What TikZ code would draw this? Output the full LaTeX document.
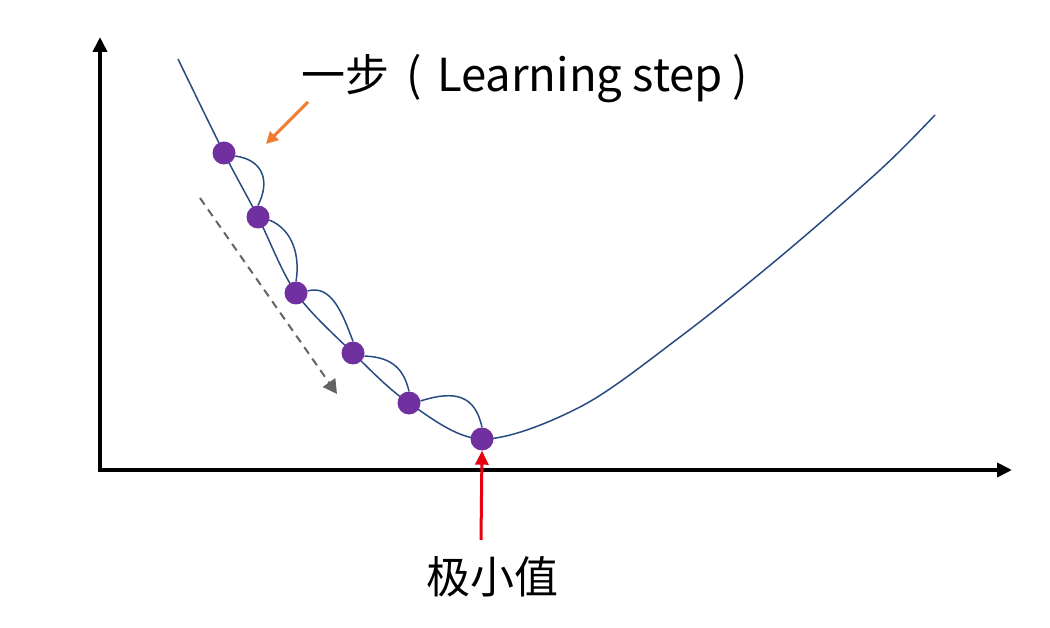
\documentclass[tikz,border=0pt]{standalone}
\usepackage{fontspec}
\setmainfont{Noto Sans CJK SC}
\usetikzlibrary{arrows.meta}
\definecolor{curveblue}{RGB}{40,75,130}
\definecolor{dotpurple}{RGB}{112,48,160}
\definecolor{arrorange}{RGB}{237,125,49}
\definecolor{arrred}{RGB}{230,0,18}
\definecolor{dashgray}{RGB}{100,100,100}
\newcommand{\cjksize}{\fontsize{44}{48}\selectfont}
\newcommand{\latsize}{\fontsize{45.5}{50}\selectfont}
\begin{document}
\begin{tikzpicture}[x=1pt,y=-1pt,
  axis/.style={line width=4pt,-{Triangle[length=15pt,width=14pt]}},
  curve/.style={draw=curveblue,line width=1.5pt},
  dot/.style={circle,fill=dotpurple,minimum size=23pt,inner sep=0pt},
  loop/.style={draw=curveblue,line width=1.5pt},
  lbl/.style={inner sep=0pt}]
\fill[white] (0,0) rectangle (1050,628);
\useasboundingbox (0,0) rectangle (1050,628);
% axes
\coordinate (o) at (100,470);
\coordinate (ytop) at (100,37);
\coordinate (xend) at (1012,470);
\draw[axis] ([yshift=2pt]o) -- (ytop);
\draw[axis] ([xshift=-2pt]o) -- (xend);
% main curve
\draw[curve] plot[smooth,tension=0.55] coordinates {(178,59) (224,153) (258,217) (296,293) (353,353) (409,403) (482,439) (580,407) (680,337) (780,257) (880,170) (935,115)};
% dots
\node[dot] (d1) at (224,153) {};
\node[dot] (d2) at (258,217) {};
\node[dot] (d3) at (296,293) {};
\node[dot] (d4) at (353,353) {};
\node[dot] (d5) at (409,403) {};
\node[dot] (d6) at (482,439) {};
% step loops
\draw[loop] (d1.-15) .. controls (264,160) and (270,182) .. (d2.north);
\draw[loop] (d2.-15) .. controls (294,230) and (300,258) .. (d3.north);
\draw[loop] (d3.10) .. controls (332,284) and (343,315) .. (d4.north);
\draw[loop] (d4.-15) .. controls (393,357) and (404,370) .. (d5.north);
\draw[loop] (d5.10) .. controls (455,390) and (475,395) .. (d6.north);
% dashed direction arrow
\coordinate (ds) at (200,198);
\coordinate (de) at (337,394);
\draw[dashgray,line width=2pt,dash pattern=on 8pt off 6pt,-{Triangle[length=14pt,width=15pt]}] (ds) -- (de);
% label learning step
\node[lbl,anchor=base west] (step) at (301,92) {\cjksize 一步\latsize\hspace{17pt}(\hspace{15.5pt}Learning step\hspace{10pt})};
\coordinate (os) at (308,102);
\coordinate (oe) at (266,144);
\draw[arrorange,line width=3pt,-{Triangle[length=12pt,width=12pt]}] (os) -- (oe);
% minimum label
\node[lbl,font=\cjksize] (minl) at (492,577) {极小值};
\coordinate (rs) at (481,540);
\draw[arrred,line width=3pt,-{Triangle[length=14pt,width=13pt]}] (rs) -- (d6.south);
\end{tikzpicture}
\end{document}
